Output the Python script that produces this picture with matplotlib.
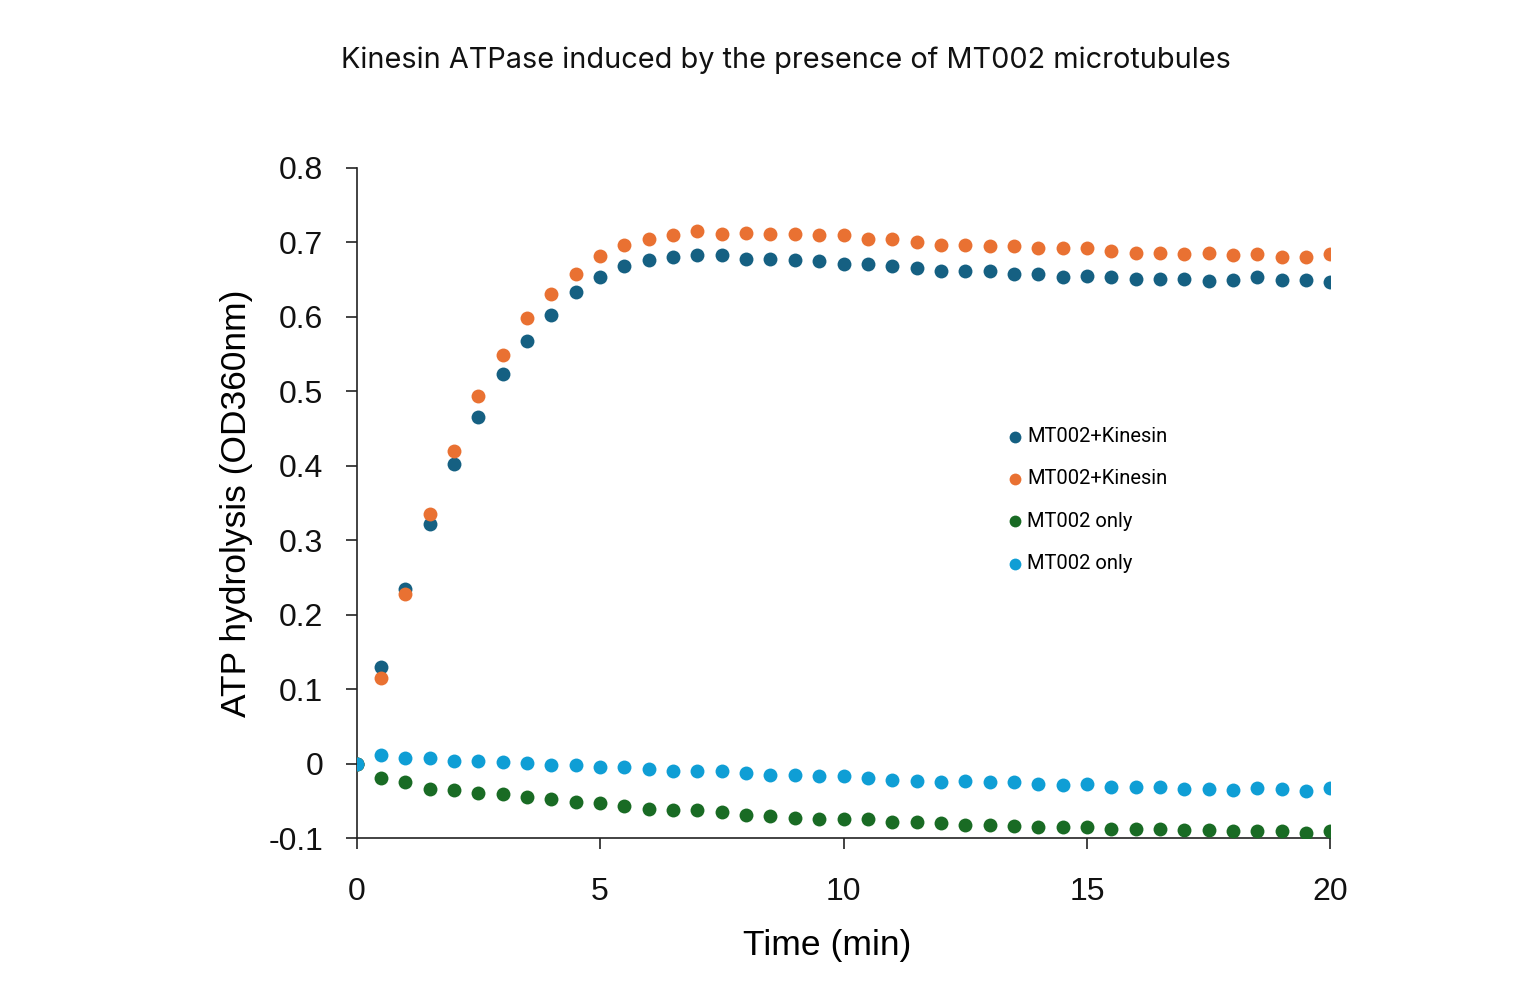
import numpy as np
import matplotlib
matplotlib.use("Agg")
import matplotlib.pyplot as plt

# --Data (time in min, OD360nm)
time_min = np.arange(0, 20.5, 0.5)

kinesin_1 = [0.0, 0.130, 0.235, 0.322, 0.402, 0.466, 0.523, 0.568, 0.603, 0.633,
             0.653, 0.668, 0.676, 0.680, 0.683, 0.683, 0.678, 0.678, 0.676, 0.675,
             0.671, 0.671, 0.668, 0.665, 0.661, 0.661, 0.661, 0.658, 0.657, 0.653,
             0.655, 0.653, 0.651, 0.651, 0.651, 0.648, 0.649, 0.653, 0.650, 0.649,
             0.647]

kinesin_2 = [0.0, 0.115, 0.228, 0.335, 0.420, 0.494, 0.549, 0.598, 0.631, 0.658,
             0.682, 0.696, 0.704, 0.710, 0.715, 0.712, 0.713, 0.711, 0.711, 0.710,
             0.710, 0.705, 0.705, 0.700, 0.697, 0.697, 0.695, 0.695, 0.692, 0.692,
             0.692, 0.688, 0.686, 0.686, 0.685, 0.686, 0.683, 0.685, 0.680, 0.680,
             0.685]

mt_only_1 = [0.0, -0.019, -0.025, -0.034, -0.035, -0.040, -0.041, -0.045, -0.048, -0.051,
             -0.053, -0.057, -0.061, -0.063, -0.063, -0.065, -0.069, -0.071, -0.073, -0.074,
             -0.074, -0.075, -0.078, -0.079, -0.080, -0.082, -0.082, -0.084, -0.085, -0.085,
             -0.085, -0.088, -0.088, -0.088, -0.089, -0.089, -0.090, -0.090, -0.090, -0.093,
             -0.091]

mt_only_2 = [0.0, 0.011, 0.008, 0.008, 0.004, 0.004, 0.002, 0.001, -0.002, -0.002,
             -0.005, -0.005, -0.007, -0.010, -0.010, -0.010, -0.013, -0.015, -0.015, -0.017,
             -0.017, -0.019, -0.022, -0.023, -0.025, -0.023, -0.025, -0.025, -0.028, -0.029,
             -0.028, -0.032, -0.031, -0.031, -0.034, -0.034, -0.035, -0.033, -0.034, -0.037,
             -0.033]

series = [kinesin_1, kinesin_2, mt_only_1, mt_only_2]
labels = ["MT002+Kinesin", "MT002+Kinesin", "MT002 only", "MT002 only"]
colors = ["#156082", "#E97132", "#196B24", "#0F9ED5"]

xticks = [0, 5, 10, 15, 20]
yticks = [-0.1, 0, 0.1, 0.2, 0.3, 0.4, 0.5, 0.6, 0.7, 0.8]
yticklabels = ["-0.1", "0", "0.1", "0.2", "0.3", "0.4", "0.5", "0.6", "0.7", "0.8"]

# --Draw
fig = plt.figure(figsize=(15.24, 10), dpi=100)
ax = fig.add_axes([0.234, 0.162, 0.639, 0.670])

for vals, lab, col in zip(series, labels, colors):
    ax.scatter(time_min, vals, s=100, color=col, label=lab, linewidths=0, zorder=3)

ax.set_xlim(0, 20)
ax.set_ylim(-0.1, 0.8)
ax.set_xticks(xticks)
ax.set_yticks(yticks)
ax.set_yticklabels(yticklabels)

for side in ["top", "right"]:
    ax.spines[side].set_visible(False)
for side in ["left", "bottom"]:
    ax.spines[side].set_linewidth(1.2)
    ax.spines[side].set_color("#222222")

ax.tick_params(axis="both", direction="out", length=8, width=1.2, color="#222222",
               labelsize=23, labelcolor="#111111")
ax.tick_params(axis="y", pad=16)
ax.tick_params(axis="x", pad=20)
for t in ax.get_xticklabels() + ax.get_yticklabels():
    t.set_family("Liberation Sans")

ax.set_xlabel("Time (min)", fontsize=25.5, family="Liberation Sans", va="center")
ax.set_ylabel("ATP hydrolysis (OD360nm)", fontsize=25.5, family="Liberation Sans", va="center")
ax.xaxis.set_label_coords(0.483, -0.16)
ax.yaxis.set_label_coords(-0.123, 0.5)

fig.text(0.516, 0.94, "Kinesin ATPase induced by the presence of MT002 microtubules",
         ha="center", va="center", fontsize=20.8, family="Inter", color="#111111")

leg = ax.legend(loc="upper left", bbox_to_anchor=(0.647, 0.64), frameon=False,
                prop={"family": "Roboto", "size": 14.5}, markerscale=0.85,
                handletextpad=0.1, labelspacing=1.15, handlelength=1.0)

fig.savefig("out.png", dpi=100, facecolor="white")
